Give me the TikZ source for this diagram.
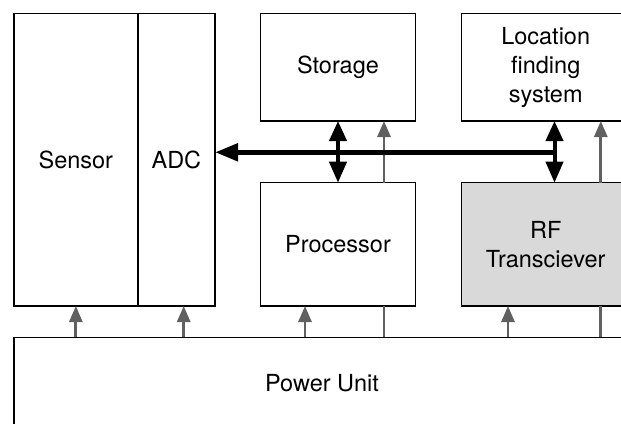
\documentclass[tikz,border=0pt]{standalone}
\usepackage{fontspec}
\setmainfont{TeX Gyre Heros}
\usetikzlibrary{arrows.meta,calc}
\definecolor{pgrey}{HTML}{606060}
\definecolor{rffill}{HTML}{D9D9D9}
\begin{document}
\begin{tikzpicture}[x=1pt,y=-1pt,
  blk/.style={draw=black,line width=1.4pt,inner sep=0pt,outer sep=0pt,align=center,
    font=\fontsize{23.5}{29}\selectfont},
  bus/.style={line width=5pt,-{Triangle[length=23pt,width=17pt]}},
  dbl/.style={line width=4pt,{Triangle[length=20pt,width=17pt]}-{Triangle[length=21pt,width=17pt]}},
  pw/.style={draw=pgrey,line width=2.8pt,-{Triangle[length=16pt,width=13pt]}},
  pwline/.style={draw=pgrey,line width=2.8pt}]
\clip (0,0) rectangle (621,423);
\fill[white] (0,0) rectangle (621,423);
% boxes
\node[blk,minimum width=123.9pt,minimum height=292.7pt] (sensor) at (75.85,159.65) {Sensor};
\node[blk,minimum width=77.2pt,minimum height=292.7pt] (adc) at (176.4,159.65) {ADC};
\node[blk,minimum width=154.8pt,minimum height=107.7pt] (stor) at (338,67.15) {Storage};
\node[blk,minimum width=154.8pt,minimum height=123.3pt] (proc) at (338,244.35) {Processor};
\node[blk,minimum width=168.6pt,minimum height=107.7pt] (loc) at (545.7,67.15) {Location\\finding\\system};
\node[blk,fill=rffill,minimum width=168.6pt,minimum height=123.3pt] (rf) at (545.7,244.35) {RF\\Transciever};
\node[blk,minimum width=616.2pt,minimum height=92pt] (pu) at (322,383.3) {Power Unit};
% connector end points
\coordinate (adcS) at ([xshift=7.3pt]adc.south);
\coordinate (procSa) at ([xshift=-33pt]proc.south);
\coordinate (procSb) at ([xshift=46pt]proc.south);
\coordinate (rfSa) at ([xshift=-37.7pt]rf.south);
\coordinate (rfSb) at ([xshift=55.1pt]rf.south);
% grey power connectors (upper)
\draw[pw] ([xshift=46pt]proc.north) -- ([xshift=46pt]stor.south);
\draw[pw] ([xshift=55.1pt]rf.north) -- ([xshift=55.1pt]loc.south);
% grey power connectors (lower)
\draw[pw] (pu.north -| sensor.south) -- (sensor.south);
\draw[pw] (pu.north -| adcS) -- (adcS);
\draw[pw] (pu.north -| procSa) -- (procSa);
\draw[pw] (pu.north -| rfSa) -- (rfSa);
\draw[pwline] (pu.north -| procSb) -- (procSb);
\draw[pwline] (pu.north -| rfSb) -- (rfSb);
% data bus
\coordinate (busR) at (554.5,152.3);
\draw[bus] (busR) -- (busR -| adc.east);
\draw[dbl] (stor.south) -- (proc.north);
\draw[dbl] (loc.south -| busR) -- (rf.north -| busR);
\end{tikzpicture}
\end{document}
